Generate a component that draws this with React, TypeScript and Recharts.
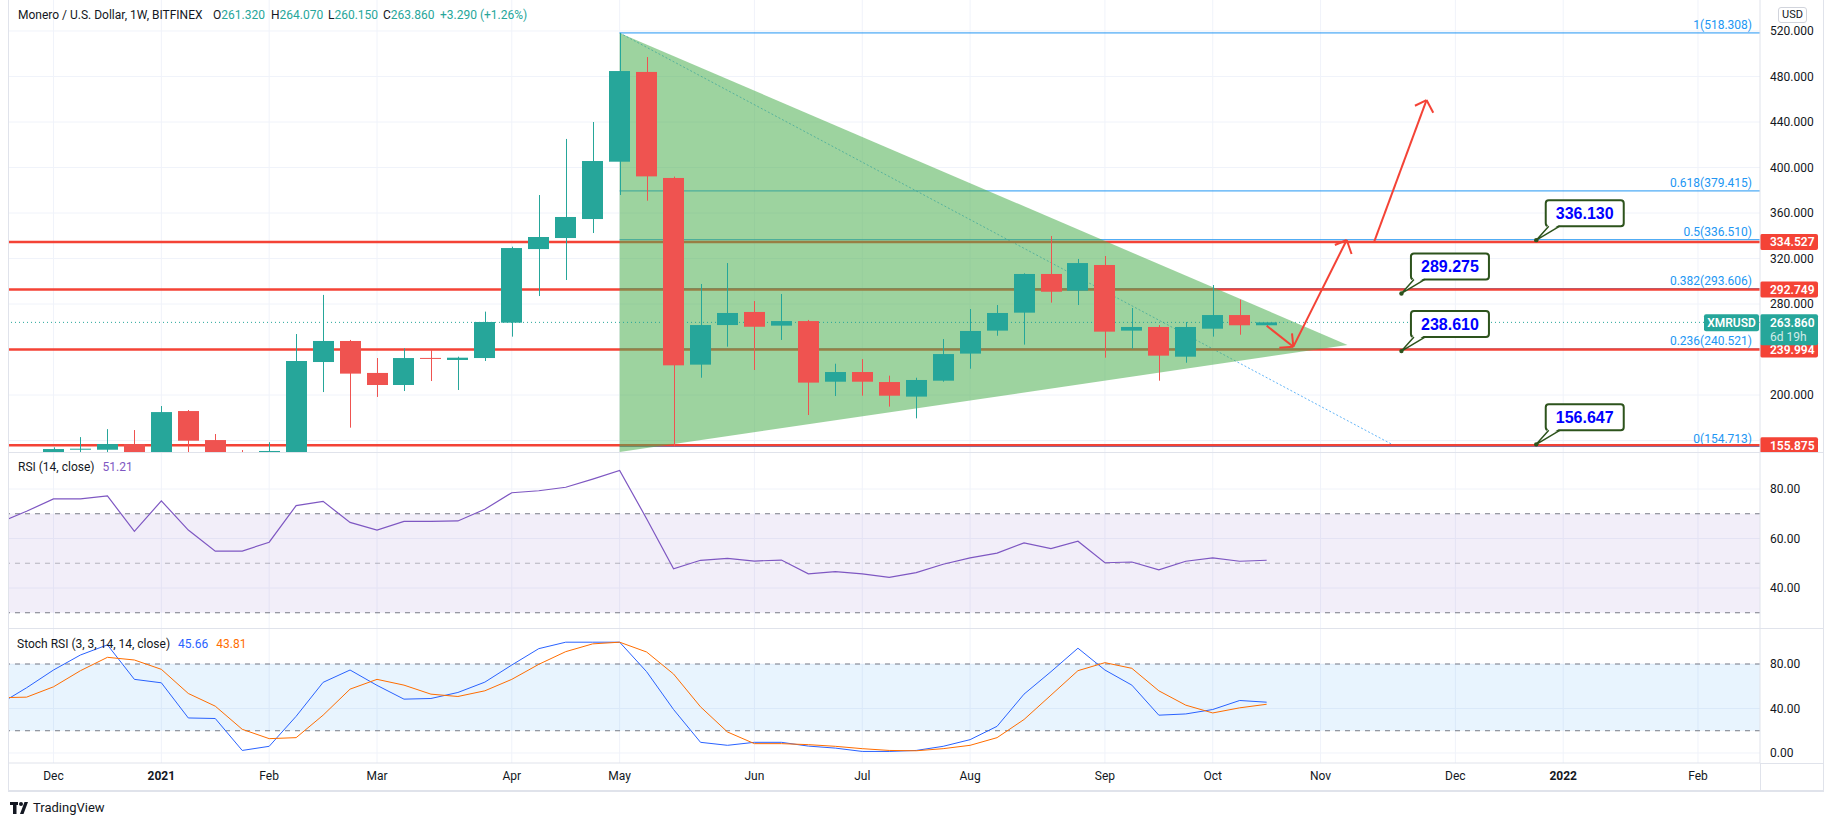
import React from "react";
import {
  ComposedChart,
  LineChart,
  Line,
  Bar,
  XAxis,
  YAxis,
  CartesianGrid,
  ReferenceLine,
  ReferenceArea,
  ReferenceDot,
} from "recharts";

const FONT = '"Trebuchet MS", Roboto, "Liberation Sans", sans-serif';
const TEXT = "#131722";
const UP = "#26a69a";
const DOWN = "#ef5350";
const RED = "#f44336";
const FIB = "#2196f3";
const GRID = "#f0f3fa";
const BORDER = "#e0e3eb";

const W = 1834;
const KMIN = -1.651;
const KMAX = 63.3;

// week index, 0 = week of 7 Dec 2020
const monthTicks = [0, 4, 8, 12, 17, 21, 26, 30, 34, 39, 43, 47, 52, 56, 61];
const monthLabels = ["Dec", "2021", "Feb", "Mar", "Apr", "May", "Jun", "Jul", "Aug", "Sep", "Oct", "Nov", "Dec", "2022", "Feb"];

const opens = [145, 151.9, 151.9, 156.9, 147, 185.9, 160.4, 148, 147, 148, 229, 247.5, 219.4, 208.8, 232.6, 230.8, 232.5, 263.6, 328.3, 338, 354.7, 405.1, 484, 390.8, 226.7, 261.5, 273, 261, 265, 211.7, 220.2, 211.4, 198.6, 212.6, 236.4, 256.6, 272.4, 306.4, 291.7, 314.3, 256.6, 259.8, 233.7, 258.3, 270.3, 261.32];
const highs = [154, 163, 170, 169.2, 190.3, 186.8, 165.7, 151.6, 158.5, 253.6, 288, 248.4, 232.5, 241, 239.6, 233.7, 273.3, 330.4, 375.8, 425.1, 440, 518.308, 497.1, 392, 297.6, 316, 282.6, 288.8, 266, 227.5, 231.6, 217, 215.2, 249.2, 275.6, 279.1, 307, 339.8, 319.6, 322.2, 276.5, 261.5, 264.2, 296.7, 283.8, 264.07];
const lows = [140, 146, 147, 140, 145, 145, 140, 138, 140, 146, 202.6, 171.3, 198.3, 203.5, 212.3, 204.4, 229.9, 251.3, 287, 301.1, 342.4, 375.8, 370.8, 154.713, 215.2, 242.5, 222, 248.4, 182.4, 199.1, 199.4, 189.8, 179.5, 211.7, 223.1, 252.1, 244.3, 281.2, 279.1, 232.8, 240.7, 212.6, 228.4, 251.3, 253, 260.15];
const closes = [152.5, 152.8, 156.9, 147, 185, 159.8, 147, 145, 150.8, 229.9, 247.5, 218.8, 208.8, 232.5, 231.8, 232.8, 264.2, 329.2, 338.9, 356.5, 405.7, 484.8, 392.2, 226.1, 261.5, 272.1, 260, 265, 210.9, 220.2, 211.7, 199.4, 213.2, 236, 256.3, 272.1, 306.4, 290.8, 316, 255.7, 259.8, 234.6, 259.8, 270.3, 261.3, 263.86];

// indicator series start at week -2
const indStart = -2;
const rsi = [66.5, 71, 76, 76, 77.2, 62.9, 75.2, 63.4, 54.9, 54.9, 58.5, 73.3, 75, 66.5, 63.4, 66.9, 66.9, 67.1, 71.8, 78.5, 79.3, 80.7, 84, 87.5, 68, 47.8, 51.2, 52, 50.9, 51.3, 45.7, 46.6, 45.7, 44.3, 46.2, 49.6, 52.2, 54.1, 58.2, 55.9, 58.9, 50.2, 50.5, 47.3, 50.8, 52.2, 50.8, 51.21];
const stochK = [44, 58.6, 74.6, 88.1, 97.2, 66.2, 63.1, 31.5, 31, 2.3, 6, 33, 63.5, 74.6, 60.8, 48.4, 49, 54.4, 63.7, 79.1, 93.8, 99.6, 99.6, 99.6, 73.1, 39.1, 9.6, 6.9, 9.6, 9.6, 6.2, 4.4, 1.4, 1.4, 2.3, 6, 12, 24, 52.9, 73.1, 94.2, 74.6, 61, 34, 35.1, 39.1, 47.2, 45.66];
const stochD = [49.7, 50.2, 59.5, 74, 86, 83.6, 75.2, 53.5, 42.1, 21.3, 12.9, 13.8, 34, 57.4, 66.2, 61, 52.9, 50.8, 55.9, 66.2, 79.7, 91.1, 98.1, 99.6, 90.8, 71, 41.5, 18.9, 8.4, 8.4, 7.5, 6, 3.9, 2.3, 2, 3.9, 6.9, 13.8, 30.1, 52, 74, 81.2, 76.1, 55.9, 43, 36, 40.6, 43.81];

const priceGrid = [160, 200, 280, 320, 360, 400, 440, 480, 520];
const priceTicks = [200, 280, 320, 360, 400, 440, 480, 520];
const rsiTicks = [40, 60, 80];
const stochTicks = [0, 40, 80];

const redLevels = [334.527, 292.749, 239.994, 155.875];
const fibLevels = [1, 0.618, 0.5, 0.382, 0.236, 0];
const fibPrices = [518.308, 379.415, 336.51, 293.606, 240.521, 154.713];
const fibStartK = 21;
const fibTrend = [[21, 518.308], [49.8, 154.713]];
const lastPrice = 263.86;

const triangleK = [21, 48];
const triangleHigh = 518.308;
const triangleLow = 149.9;
const triangleTip = 244;

const arrows = [
  { from: [45.0, 260.9], to: [45.99, 242.5], wings: [[45.47, 241.6], [45.94, 254.2]] },
  { from: [45.99, 242.5], to: [47.97, 336.3], wings: [[47.53, 331.9], [48.15, 324.0]] },
  { from: [48.99, 334.8], to: [50.93, 459.3], wings: [[50.5, 454.3], [51.18, 448.2]] },
];

const callouts = [
  { k: 55, p: 336.13 },
  { k: 50, p: 289.275 },
  { k: 50, p: 238.61 },
  { k: 55, p: 156.647 },
];

const ohlc = [
  ["O", "261.320", 213],
  ["H", "264.070", 271],
  ["L", "260.150", 328],
  ["C", "263.860", 383],
];

const candles = opens.map((o, i) => ({ k: i, open: o, high: highs[i], low: lows[i], close: closes[i] }));
const rsiRows = rsi.map((v, i) => ({ k: indStart + i, rsi: v }));
const stochRows = stochK.map((v, i) => ({ k: indStart + i, kv: v, dv: stochD[i] }));

const Candle = (props: any) => {
  const { x, y, width, height, payload } = props;
  if (!payload || y == null || height == null) return null;
  const { open, close, high, low } = payload;
  const px = (v: number) => y + ((high - v) / (high - low)) * height;
  const cx = Math.round(x + width / 2) + 0.5;
  const color = close >= open ? UP : DOWN;
  const top = px(Math.max(open, close));
  const bot = px(Math.min(open, close));
  return (
    <g>
      <line x1={cx} x2={cx} y1={y} y2={y + height} stroke={color} strokeWidth={1} />
      <rect x={Math.round(x)} y={top} width={Math.round(width)} height={Math.max(1, bot - top)} fill={color} />
    </g>
  );
};

const Triangle = (props: any) => {
  const { x, y, width, height } = props;
  const tipY = y + ((triangleHigh - triangleTip) / (triangleHigh - triangleLow)) * height;
  return <polygon points={`${x},${y} ${x},${y + height} ${x + width},${tipY}`} fill="rgb(76,175,80)" fillOpacity={0.55} />;
};

const axisTag = (text: string) => (props: any) => {
  const vb = props.viewBox;
  const x = vb.x + vb.width;
  const y = vb.y;
  return (
    <g fontFamily={FONT}>
      <rect x={x} y={y - 8} width={58} height={16} fill={RED} rx={2} />
      <text x={x + 10} y={y + 4.5} fill="#fff" fontSize={12} fontWeight={600}>{text}</text>
    </g>
  );
};

const fibTag = (text: string) => (props: any) => {
  const vb = props.viewBox;
  return (
    <text x={vb.x + vb.width - 8} y={vb.y - 4} textAnchor="end" fill={FIB} fontSize={12} fontFamily={FONT}>
      {text}
    </text>
  );
};

const lastTag = (props: any) => {
  const vb = props.viewBox;
  const x = vb.x + vb.width;
  const y = vb.y;
  return (
    <g fontFamily={FONT}>
      <rect x={x - 56} y={y - 8} width={55} height={17} fill={UP} rx={2} />
      <text x={x - 28.5} y={y + 4.5} textAnchor="middle" fill="#fff" fontSize={12} fontWeight={600}>XMRUSD</text>
      <rect x={x} y={y - 8} width={58} height={31} fill={UP} rx={2} />
      <text x={x + 10} y={y + 4.5} fill="#fff" fontSize={12} fontWeight={600}>{lastPrice.toFixed(3)}</text>
      <text x={x + 10} y={y + 18.5} fill="rgba(255,255,255,0.8)" fontSize={12}>6d 19h</text>
    </g>
  );
};

const callout = (text: string) => (props: any) => {
  const { cx, cy } = props;
  const bx = cx + 9.5;
  const by = cy - 40;
  const w = 78;
  const h = 26;
  const dark = "#2d531c";
  return (
    <g>
      <rect x={bx} y={by} width={w} height={h} rx={3} fill="#fff" stroke={dark} strokeWidth={2} />
      <polygon points={`${cx},${cy} ${bx + 3},${by + h - 2} ${bx + 14},${by + h - 2}`} fill="#fff" />
      <path d={`M${bx + 3},${by + h} L${cx},${cy} L${bx + 14},${by + h}`} fill="none" stroke={dark} strokeWidth={1.5} />
      <circle cx={cx} cy={cy} r={2.2} fill={dark} />
      <text x={bx + w / 2} y={by + h / 2 + 6} textAnchor="middle" fill="#0000ff" fontSize={16} fontWeight="bold" fontFamily='"Liberation Sans", Arial, sans-serif'>
        {text}
      </text>
    </g>
  );
};

const TimeTick = (props: any) => {
  const { x, y, payload } = props;
  const i = monthTicks.indexOf(payload.value);
  const label = monthLabels[i] ?? "";
  const isYear = /^\d{4}$/.test(label);
  return (
    <text x={x} y={y} dy="0.71em" textAnchor="middle" fill={TEXT} fontSize={12} fontFamily={FONT} fontWeight={isYear ? 700 : 400}>
      {label}
    </text>
  );
};

const tickStyle = { fill: TEXT, fontSize: 12, fontFamily: FONT };
const legend = { position: "absolute" as const, fontSize: 12, color: TEXT, whiteSpace: "nowrap" as const, lineHeight: "18px" };

export default function App() {
  return (
    <div style={{ position: "absolute", left: 0, top: 0, width: W, height: 825, background: "#fff", fontFamily: FONT, overflow: "hidden" }}>
      {/* price pane */}
      <div style={{ position: "absolute", left: 0, top: 0 }}>
        <ComposedChart width={W} height={452} data={candles} margin={{ top: 0, right: 11, bottom: 0, left: 9 }}>
          <CartesianGrid stroke={GRID} horizontalValues={priceGrid} verticalValues={monthTicks} />
          <XAxis dataKey="k" type="number" domain={[KMIN, KMAX]} allowDataOverflow ticks={monthTicks} hide />
          <YAxis
            orientation="right"
            width={63}
            domain={[149.9, 547.25]}
            allowDataOverflow
            ticks={priceTicks}
            interval={0}
            tickLine={false}
            tickMargin={4}
            axisLine={{ stroke: BORDER }}
            tick={tickStyle}
            tickFormatter={(v: number) => v.toFixed(3)}
          />
          {fibPrices.map((p, i) => (
            <ReferenceLine
              key={"fib" + i}
              segment={[{ x: fibStartK, y: p }, { x: KMAX, y: p }]}
              stroke={FIB}
              strokeWidth={1}
              zIndex={10}
              label={fibTag(`${fibLevels[i]}(${p.toFixed(3)})`)}
            />
          ))}
          <ReferenceLine
            segment={[{ x: fibTrend[0][0], y: fibTrend[0][1] }, { x: fibTrend[1][0], y: fibTrend[1][1] }]}
            stroke={FIB}
            strokeOpacity={0.7}
            strokeDasharray="2 2"
            zIndex={10}
          />
          {redLevels.map((p, i) => (
            <ReferenceLine key={"red" + i} y={p} stroke={RED} strokeWidth={2.5} zIndex={20} label={axisTag(p.toFixed(3))} />
          ))}
          <ReferenceArea
            x1={triangleK[0]}
            x2={triangleK[1]}
            y1={triangleLow}
            y2={triangleHigh}
            ifOverflow="visible"
            shape={Triangle}
            zIndex={30}
          />
          <ReferenceLine y={lastPrice} stroke={UP} strokeDasharray="1 3" zIndex={35} label={lastTag} />
          <Bar dataKey={(d: any) => [d.low, d.high]} barSize={21} shape={Candle} isAnimationActive={false} zIndex={300} />
          {arrows.map((a, i) => (
            <React.Fragment key={"ar" + i}>
              <ReferenceLine segment={[{ x: a.from[0], y: a.from[1] }, { x: a.to[0], y: a.to[1] }]} stroke={RED} strokeWidth={2} zIndex={450} />
              {a.wings.map((w, j) => (
                <ReferenceLine key={j} segment={[{ x: a.to[0], y: a.to[1] }, { x: w[0], y: w[1] }]} stroke={RED} strokeWidth={2} zIndex={450} />
              ))}
            </React.Fragment>
          ))}
          {callouts.map((c, i) => (
            <ReferenceDot key={"co" + i} x={c.k} y={c.p} r={3} shape={callout(c.p.toFixed(3))} zIndex={600} />
          ))}
        </ComposedChart>
      </div>

      {/* RSI pane */}
      <div style={{ position: "absolute", left: 0, top: 452 }}>
        <LineChart width={W} height={176} data={rsiRows} margin={{ top: 0, right: 11, bottom: 0, left: 9 }}>
          <CartesianGrid stroke={GRID} horizontalValues={rsiTicks} verticalValues={monthTicks} />
          <XAxis dataKey="k" type="number" domain={[KMIN, KMAX]} allowDataOverflow ticks={monthTicks} hide />
          <YAxis
            orientation="right"
            width={63}
            domain={[23.84, 94.95]}
            allowDataOverflow
            ticks={rsiTicks}
            interval={0}
            tickLine={false}
            tickMargin={4}
            axisLine={{ stroke: BORDER }}
            tick={tickStyle}
            tickFormatter={(v: number) => v.toFixed(2)}
          />
          <ReferenceArea y1={30} y2={70} fill="#7e57c2" fillOpacity={0.1} stroke="none" />
          <ReferenceLine y={70} stroke="#787b86" strokeDasharray="5 5" />
          <ReferenceLine y={50} stroke="#787b86" strokeOpacity={0.5} strokeDasharray="5 5" />
          <ReferenceLine y={30} stroke="#787b86" strokeDasharray="5 5" />
          <Line dataKey="rsi" type="linear" stroke="#7e57c2" strokeWidth={1.2} dot={false} isAnimationActive={false} />
        </LineChart>
      </div>

      {/* Stoch RSI pane + time axis */}
      <div style={{ position: "absolute", left: 0, top: 628 }}>
        <LineChart width={W} height={162} data={stochRows} margin={{ top: 0, right: 11, bottom: 0, left: 9 }}>
          <CartesianGrid stroke={GRID} horizontalValues={stochTicks} verticalValues={monthTicks} />
          <XAxis
            dataKey="k"
            type="number"
            domain={[KMIN, KMAX]}
            allowDataOverflow
            ticks={monthTicks}
            interval={0}
            height={27}
            tickLine={false}
            axisLine={{ stroke: BORDER }}
            tick={<TimeTick />}
          />
          <YAxis
            orientation="right"
            width={63}
            domain={[-8.99, 112.36]}
            allowDataOverflow
            ticks={stochTicks}
            interval={0}
            tickLine={false}
            tickMargin={4}
            axisLine={{ stroke: BORDER }}
            tick={tickStyle}
            tickFormatter={(v: number) => v.toFixed(2)}
          />
          <ReferenceArea y1={20} y2={80} fill="#2196f3" fillOpacity={0.1} stroke="none" />
          <ReferenceLine y={80} stroke="#787b86" strokeDasharray="5 5" />
          <ReferenceLine y={20} stroke="#787b86" strokeDasharray="5 5" />
          <Line dataKey="kv" type="linear" stroke="#2962ff" strokeWidth={1} dot={false} isAnimationActive={false} />
          <Line dataKey="dv" type="linear" stroke="#ff6d00" strokeWidth={1} dot={false} isAnimationActive={false} />
        </LineChart>
      </div>

      {/* frame */}
      <div style={{ position: "absolute", left: 8, top: 452, width: 1815, height: 1, background: BORDER }} />
      <div style={{ position: "absolute", left: 8, top: 628, width: 1815, height: 1, background: BORDER }} />
      <div style={{ position: "absolute", left: 8, top: 790, width: 1816, height: 2, background: BORDER }} />
      <div style={{ position: "absolute", left: 8, top: 0, width: 1, height: 791, background: BORDER }} />
      <div style={{ position: "absolute", left: 1823, top: 0, width: 1, height: 791, background: BORDER }} />
      <div style={{ position: "absolute", left: 1760, top: 763, width: 1, height: 28, background: BORDER }} />
      <div style={{ position: "absolute", left: 1760, top: 763, width: 63, height: 1, background: BORDER }} />

      {/* legends */}
      <div style={{ ...legend, left: 18, top: 6 }}>Monero / U.S. Dollar, 1W, BITFINEX</div>
      {ohlc.map(([k, v, x]) => (
        <div key={k as string} style={{ ...legend, left: x as number, top: 6 }}>
          {k}
          <span style={{ color: UP }}>{v}</span>
        </div>
      ))}
      <div style={{ ...legend, left: 440, top: 6, color: UP }}>+3.290 (+1.26%)</div>
      <div style={{ position: "absolute", left: 1778, top: 7, width: 27, height: 14, border: "1px solid #d1d4dc", borderRadius: 3, fontSize: 11, lineHeight: "14px", textAlign: "center", color: TEXT, background: "#fff" }}>
        USD
      </div>
      <div style={{ ...legend, left: 18, top: 458 }}>
        RSI (14, close)
        <span style={{ color: "#7e57c2", marginLeft: 8 }}>51.21</span>
      </div>
      <div style={{ ...legend, left: 17, top: 635 }}>
        Stoch RSI (3, 3, 14, 14, close)
        <span style={{ color: "#2962ff", marginLeft: 8 }}>45.66</span>
        <span style={{ color: "#ff6d00", marginLeft: 8 }}>43.81</span>
      </div>

      {/* branding */}
      <svg style={{ position: "absolute", left: 10, top: 802 }} width={22} height={12}>
        <rect x={0} y={0} width={8} height={3} fill={TEXT} />
        <rect x={3} y={0} width={3.5} height={12} fill={TEXT} />
        <circle cx={11} cy={2} r={2} fill={TEXT} />
        <polygon points="10,12 14.5,0 18,0 13.5,12" fill={TEXT} />
      </svg>
      <div style={{ position: "absolute", left: 33, top: 799, fontSize: 13, color: TEXT, lineHeight: "18px" }}>TradingView</div>
    </div>
  );
}
